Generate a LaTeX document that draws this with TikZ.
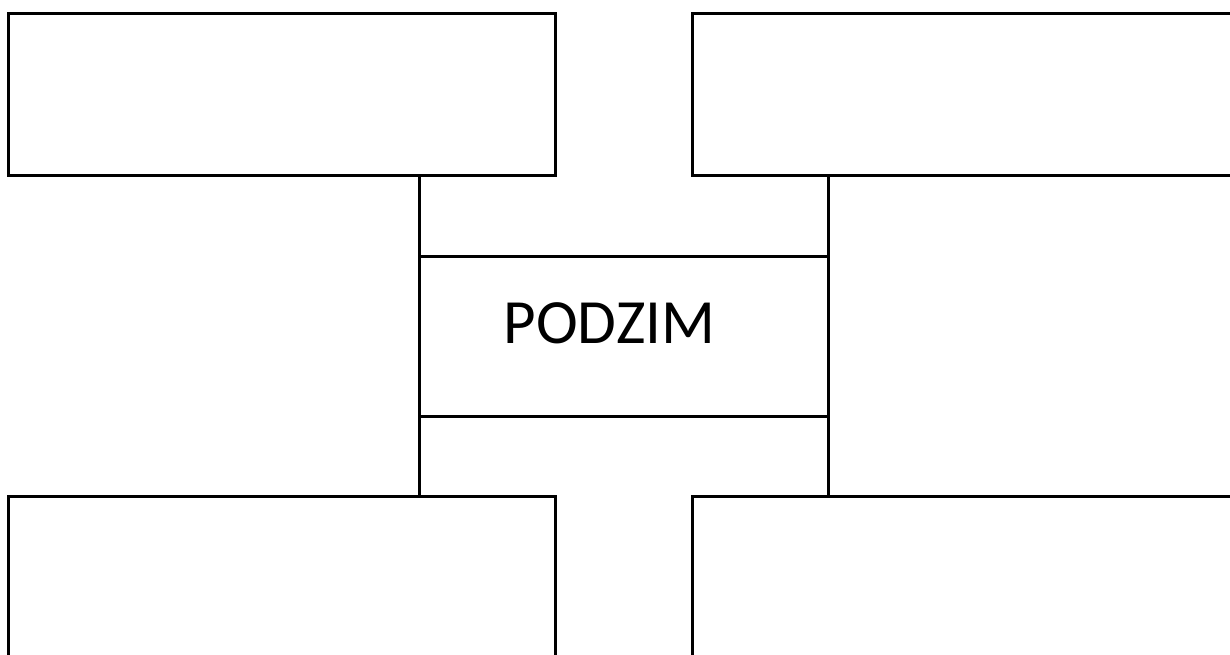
\documentclass[tikz,border=0pt]{standalone}
\usepackage{fontspec}
\setmainfont{Carlito}
\begin{document}
\begin{tikzpicture}[x=1pt,y=-1pt,
  box/.style={draw=black,line width=3pt,rectangle,inner sep=0pt,outer sep=0pt,fill=white},
  conn/.style={draw=black,line width=3pt}]
\useasboundingbox (0,0) rectangle (1230,655);
\clip (0,0) rectangle (1230,655);
\fill[white] (0,0) rectangle (1230,655);
% outer boxes
\node[box,minimum width=547pt,minimum height=162pt] (tl) at (281.5,95) {};
\node[box,minimum width=560pt,minimum height=162pt] (tr) at (972,95) {};
\node[box,minimum width=547pt,minimum height=180pt] (bl) at (281.5,586) {};
\node[box,minimum width=560pt,minimum height=180pt] (br) at (972,586) {};
% centre box
\node[box,minimum width=409pt,minimum height=160pt,
  label={[font=\fontsize{63}{70}\selectfont,xshift=-14pt,yshift=13pt]center:PODZIM}] (c) at (623.5,336) {};
% connectors
\draw[conn] (tl.south -| c.west) -- (bl.north -| c.west);
\draw[conn] (tr.south -| c.east) -- (br.north -| c.east);
\end{tikzpicture}
\end{document}
